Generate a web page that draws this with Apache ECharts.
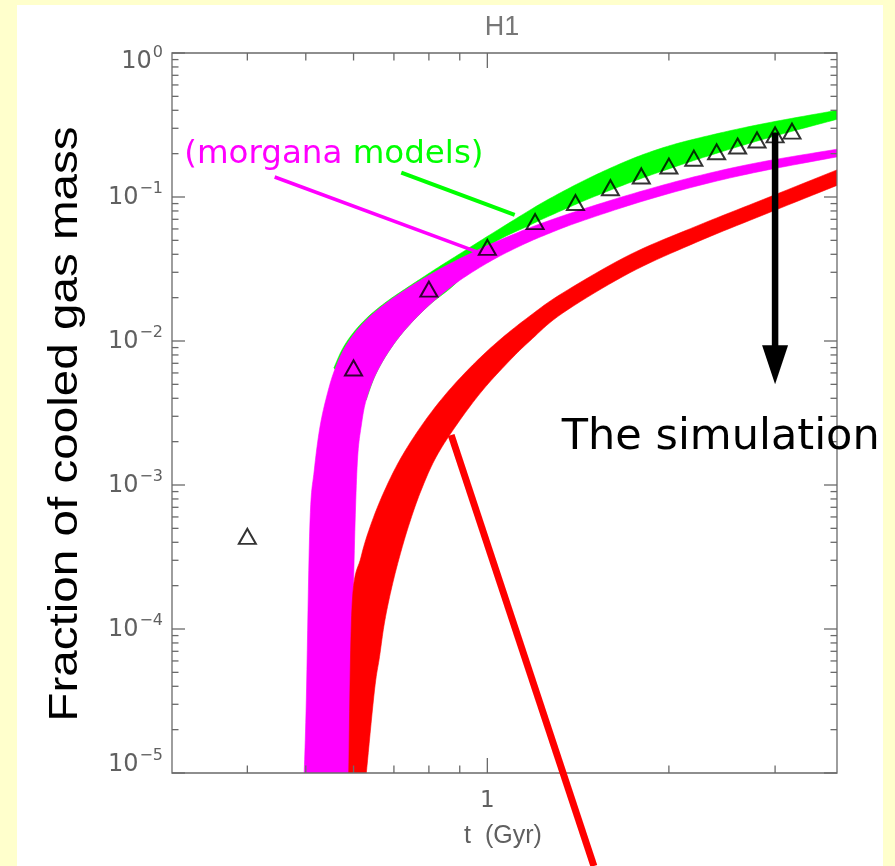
<!DOCTYPE html>
<html><head><meta charset="utf-8">
<script src="https://cdn.jsdelivr.net/npm/echarts@6/dist/echarts.min.js"></script>
<style>
html,body{margin:0;padding:0;background:#FFFFCC;overflow:hidden;}
#panel{position:absolute;left:17px;top:5px;width:866px;height:861px;background:#ffffff;}
#chart{position:absolute;left:0;top:0;width:895px;height:866px;}
</style></head><body>
<div id="panel"></div><div id="chart"></div>
<script>
// ---------------- data ----------------
const chartTitle = 'H1';
const xAxisTitle = 't  (Gyr)';
const yAxisTitle = 'Fraction of cooled gas mass';
const xMin = 0.3, xMax = 3.8, yMin = 1e-5, yMax = 1;

const xMajorTicks = [1];
const xTickLabels = ['1'];
const xMinorTicks = [0.4, 0.5, 0.6, 0.7, 0.8, 0.9, 2, 3];
const yMajorTicks = [1e-5, 1e-4, 1e-3, 1e-2, 1e-1, 1];
const yTickExponents = ['\u22125', '\u22124', '\u22123', '\u22122', '\u22121', '0'];
const yMinorTicks = [];
[1e-5, 1e-4, 1e-3, 1e-2, 1e-1].forEach(d => { for (let k = 2; k <= 9; k++) yMinorTicks.push(k * d); });

// simulation (triangles)
const simT = [0.4, 0.6, 0.8, 1.0, 1.2, 1.4, 1.6, 1.8, 2.0, 2.2, 2.4, 2.6, 2.8, 3.0, 3.2];
const simF = [4.4e-4, 6.5e-3, 0.0229, 0.0447, 0.0674, 0.0915, 0.116, 0.140, 0.164, 0.186, 0.206, 0.226, 0.249, 0.270, 0.287];

// morgana model bands (upper and lower edges)
const greenUpperT = [0.5565, 0.576, 0.603, 0.6387, 0.6843, 0.7386, 0.781, 0.833, 0.899, 1.009, 1.176, 1.269, 1.423, 1.597, 1.791, 2.01, 2.253, 2.625, 3.059, 3.776, 3.8];
const greenUpperF = [6.49e-3, 8.91e-3, 0.01177, 0.01513, 0.01905, 0.02367, 0.0276, 0.0329, 0.0402, 0.0545, 0.0810, 0.0975, 0.1257, 0.1582, 0.1935, 0.2278, 0.2581, 0.2990, 0.3398, 0.398, 0.3995];
const greenLowerT = [0.6295, 0.6523, 0.688, 0.734, 0.802, 0.889, 1.009, 1.176, 1.269, 1.423, 1.597, 1.791, 2.01, 2.253, 2.625, 3.059, 3.776, 3.8];
const greenLowerF = [3.89e-3, 5.816e-3, 8.6e-3, 0.01225, 0.01784, 0.02541, 0.0457, 0.0637, 0.0740, 0.0914, 0.1113, 0.1336, 0.158, 0.1851, 0.2257, 0.2716, 0.344, 0.346];

const magentaUpperT = [0.497, 0.501, 0.508, 0.5165, 0.5285, 0.545, 0.5598, 0.5794, 0.6066, 0.6424, 0.688, 0.743, 0.781, 0.833, 0.889, 0.960, 1.009, 1.176, 1.423, 1.791, 2.253, 2.835, 3.776, 3.8];
const magentaUpperF = [1e-5, 3.21e-5, 5.45e-4, 1.27e-3, 2.61e-3, 4.57e-3, 6.49e-3, 8.91e-3, 0.01177, 0.01513, 0.01905, 0.02367, 0.02695, 0.03148, 0.03634, 0.0425, 0.04679, 0.0612, 0.0810, 0.1090, 0.1413, 0.1745, 0.2138, 0.2148];
const magentaLowerT = [0.5908, 0.5928, 0.598, 0.6035, 0.6095, 0.6182, 0.6295, 0.6523, 0.688, 0.734, 0.802, 0.889, 1.009, 1.144, 1.269, 1.423, 1.791, 2.253, 2.835, 3.776, 3.8];
const magentaLowerF = [1e-5, 2.22e-5, 1.10e-4, 5.45e-4, 1.565e-3, 2.61e-3, 3.89e-3, 5.816e-3, 8.6e-3, 0.01225, 0.01784, 0.02541, 0.03558, 0.04657, 0.0561, 0.0673, 0.0923, 0.1208, 0.1506, 0.189, 0.1895];

const redUpperT = [0.589, 0.5969, 0.6174, 0.6416, 0.675, 0.7196, 0.7816, 0.855, 0.9453, 1.048, 1.176, 1.334, 1.723, 2.227, 2.867, 3.8];
const redUpperF = [1e-5, 1.517e-4, 3.16e-4, 5.36e-4, 9.09e-4, 1.55e-3, 2.657e-3, 4.32e-3, 6.80e-3, 0.01016, 0.01491, 0.02158, 0.03975, 0.0630, 0.0961, 0.1543];
const redLowerT = [0.63, 0.65, 0.6626, 0.675, 0.6926, 0.7152, 0.743, 0.777, 0.823, 0.894, 0.983, 1.089, 1.176, 1.334, 1.723, 2.227, 2.867, 3.8];
const redLowerF = [1e-5, 3.77e-5, 6.43e-5, 1.10e-4, 1.866e-4, 3.18e-4, 5.45e-4, 9.23e-4, 1.574e-3, 2.70e-3, 4.57e-3, 7.31e-3, 0.0100, 0.01565, 0.02976, 0.0487, 0.0750, 0.1204];

// annotations (data coordinates)
const noteModelsText = ['(morgana ', 'models)'];
const noteModelsAt = [0.3144, 0.196];
const noteMagentaLine = [[0.444, 0.1377], [0.959, 0.0417]];
const noteGreenLine = [[0.720, 0.1475], [1.110, 0.075]];
const noteRedLine = [[0.871, 2.225e-3], [1.502, 2.26e-6]];
const noteArrow = [[3.0, 0.28], [3.0, 0.005]];
const noteSimText = 'The simulation';
const noteSimAt = [1.329, 2.12e-3];

// ---------------- chart ----------------
const chart = echarts.init(document.getElementById('chart'), null, {renderer: 'canvas'});
const AXIS_COLOR = '#6a6a6a';
const LABEL_COLOR = '#606060';
const LABEL_FAMILY = '"DejaVu Sans", sans-serif';
const TITLE_FAMILY = '"Liberation Sans", Arial, sans-serif';
const NOTE_FAMILY = '"DejaVu Sans", sans-serif';

const measureCtx = document.createElement('canvas').getContext('2d');
function textWidth(text, font) { measureCtx.font = font; return measureCtx.measureText(text).width; }

// Catmull-Rom densification of an edge (pixel space, render smoothing only)
function smoothEdge(p) {
  if (p.length < 3) return p.slice();
  const out = [];
  const N = 10;
  for (let i = 0; i < p.length - 1; i++) {
    const p0 = p[i - 1] || p[i], p1 = p[i], p2 = p[i + 1], p3 = p[i + 2] || p[i + 1];
    const c1 = [p1[0] + (p2[0] - p0[0]) / 6, p1[1] + (p2[1] - p0[1]) / 6];
    const c2 = [p2[0] - (p3[0] - p1[0]) / 6, p2[1] - (p3[1] - p1[1]) / 6];
    for (let k = 0; k < N; k++) {
      const s = k / N, u = 1 - s;
      out.push([
        u * u * u * p1[0] + 3 * u * u * s * c1[0] + 3 * u * s * s * c2[0] + s * s * s * p2[0],
        u * u * u * p1[1] + 3 * u * u * s * c1[1] + 3 * u * s * s * c2[1] + s * s * s * p2[1]
      ]);
    }
  }
  out.push(p[p.length - 1]);
  return out;
}

function bandSeries(name, upT, upF, loT, loF, color, z) {
  return {
    type: 'custom', name, coordinateSystem: 'cartesian2d', clip: true, silent: true, z,
    data: [[upT[0], upF[0]]],
    renderItem: (params, api) => {
      const up = smoothEdge(upT.map((t, i) => api.coord([t, upF[i]])));
      const lo = smoothEdge(loT.map((t, i) => api.coord([t, loF[i]]))).reverse();
      return {type: 'polygon', shape: {points: up.concat(lo)}, style: {fill: color, stroke: color, lineWidth: 0.6}};
    }
  };
}

const tickSpecs = [];
xMajorTicks.forEach((v, i) => tickSpecs.push({axis: 'x', v, major: true, label: xTickLabels[i]}));
xMinorTicks.forEach(v => tickSpecs.push({axis: 'x', v, major: false}));
yMajorTicks.forEach((v, i) => tickSpecs.push({axis: 'y', v, major: true, exp: yTickExponents[i], idx: i}));
yMinorTicks.forEach(v => tickSpecs.push({axis: 'y', v, major: false}));

function txt(text, x, y, align, valign, font, fill) {
  return {type: 'text', style: {text, x, y, textAlign: align, align: align, textVerticalAlign: valign, verticalAlign: valign, font, fill}};
}

const BASE_FONT = '24px ' + LABEL_FAMILY;
const SUP_FONT = '16px ' + LABEL_FAMILY;

const ticksSeries = {
  type: 'custom', coordinateSystem: 'cartesian2d', clip: false, silent: true, z: 8,
  data: tickSpecs.map(s => s.axis === 'x' ? [s.v, yMin] : [xMin, s.v]),
  renderItem: (params, api) => {
    const s = tickSpecs[params.dataIndex];
    const cs = params.coordSys;
    const p = api.coord([api.value(0), api.value(1)]);
    const st = {stroke: AXIS_COLOR, lineWidth: 1.3};
    const ch = [];
    if (s.axis === 'x') {
      const L = s.major ? 15 : 7.5;
      const bottom = cs.y + cs.height, top = cs.y;
      ch.push({type: 'line', shape: {x1: p[0], y1: bottom, x2: p[0], y2: bottom - L}, style: st});
      ch.push({type: 'line', shape: {x1: p[0], y1: top, x2: p[0], y2: top + L}, style: st});
      if (s.label) ch.push(txt(s.label, p[0], bottom + 28, 'center', 'middle', '23px ' + LABEL_FAMILY, LABEL_COLOR));
    } else {
      const L = s.major ? 13 : 6.5;
      const left = cs.x, right = cs.x + cs.width;
      ch.push({type: 'line', shape: {x1: left, y1: p[1], x2: left + L, y2: p[1]}, style: st});
      ch.push({type: 'line', shape: {x1: right, y1: p[1], x2: right - L, y2: p[1]}, style: st});
      if (s.major) {
        let dy = 1;
        if (s.idx === 0) dy = -8.5;
        if (s.idx === yMajorTicks.length - 1) dy = 9;
        const endX = left - 9;
        const wSup = textWidth(s.exp, SUP_FONT);
        ch.push(txt('10', endX - wSup - 1, p[1] + dy, 'right', 'middle', BASE_FONT, LABEL_COLOR));
        ch.push(txt(s.exp, endX - wSup, p[1] + dy - 9, 'left', 'middle', SUP_FONT, LABEL_COLOR));
      }
    }
    return {type: 'group', children: ch};
  }
};

const notesSeries = {
  type: 'custom', coordinateSystem: 'cartesian2d', clip: false, silent: true, z: 12,
  data: [[xMin, yMin]],
  renderItem: (params, api) => {
    const c = p => api.coord(p);
    const ch = [];
    const line = (pts, color, w) => {
      const a = c(pts[0]), b = c(pts[1]);
      ch.push({type: 'line', shape: {x1: a[0], y1: a[1], x2: b[0], y2: b[1]}, style: {stroke: color, lineWidth: w}});
    };
    line(noteMagentaLine, '#FF00FF', 3.5);
    line(noteGreenLine, '#00FF00', 4);
    line(noteRedLine, '#FF0000', 7);
    const at = c(noteArrow[0]), tip = c(noteArrow[1]);
    ch.push({type: 'line', shape: {x1: at[0], y1: at[1], x2: tip[0], y2: tip[1] - 36}, style: {stroke: '#000', lineWidth: 6.5}});
    ch.push({type: 'polygon', shape: {points: [[tip[0] - 13, tip[1] - 39], [tip[0] + 13, tip[1] - 39], [tip[0], tip[1]]]}, style: {fill: '#000'}});
    const m = c(noteModelsAt);
    const mFont = '32.5px ' + NOTE_FAMILY;
    const w1 = textWidth(noteModelsText[0], mFont);
    ch.push(txt(noteModelsText[0], m[0], m[1], 'left', 'middle', mFont, '#FF00FF'));
    ch.push(txt(noteModelsText[1], m[0] + w1, m[1], 'left', 'middle', mFont, '#00FF00'));
    const s = c(noteSimAt);
    ch.push(txt(noteSimText, s[0], s[1], 'left', 'middle', '43px ' + NOTE_FAMILY, '#000'));
    return {type: 'group', children: ch};
  }
};

chart.setOption({
  animation: false,
  backgroundColor: 'transparent',
  grid: {left: 172, right: 58, top: 53, bottom: 93, show: true, borderColor: AXIS_COLOR, borderWidth: 1.3, backgroundColor: 'transparent', z: 9},
  xAxis: {type: 'log', logBase: 10, min: xMin, max: xMax,
    axisLine: {show: false}, axisTick: {show: false}, axisLabel: {show: false}, splitLine: {show: false}},
  yAxis: {type: 'log', logBase: 10, min: yMin, max: yMax,
    axisLine: {show: false}, axisTick: {show: false}, axisLabel: {show: false}, splitLine: {show: false}},
  graphic: [
    {type: 'text', x: 502, y: 28, style: {text: chartTitle, textAlign: 'center', align: 'center', textVerticalAlign: 'middle', verticalAlign: 'middle', font: '27px ' + TITLE_FAMILY, fill: '#777'}},
    {type: 'text', x: 503, y: 836, style: {text: xAxisTitle, textAlign: 'center', align: 'center', textVerticalAlign: 'middle', verticalAlign: 'middle', font: '25px ' + TITLE_FAMILY, fill: LABEL_COLOR}},
    {type: 'text', x: 66, y: 424, rotation: Math.PI / 2, scaleX: 1.19,
     style: {text: yAxisTitle, textAlign: 'center', align: 'center', textVerticalAlign: 'middle', verticalAlign: 'middle', font: '40px ' + TITLE_FAMILY, fill: '#000'}}
  ],
  series: [
    bandSeries('green', greenUpperT, greenUpperF, greenLowerT, greenLowerF, '#00FF00', 2),
    bandSeries('magenta', magentaUpperT, magentaUpperF, magentaLowerT, magentaLowerF, '#FF00FF', 3),
    bandSeries('red', redUpperT, redUpperF, redLowerT, redLowerF, '#FF0000', 4),
    {type: 'scatter', name: 'simulation', data: simT.map((t, i) => [t, simF[i]]), symbol: 'triangle', symbolSize: [17, 15],
     itemStyle: {color: 'rgba(0,0,0,0)', borderColor: '#000', borderWidth: 2}, z: 6, silent: true},
    ticksSeries,
    notesSeries
  ]
});
</script>
</body></html>
